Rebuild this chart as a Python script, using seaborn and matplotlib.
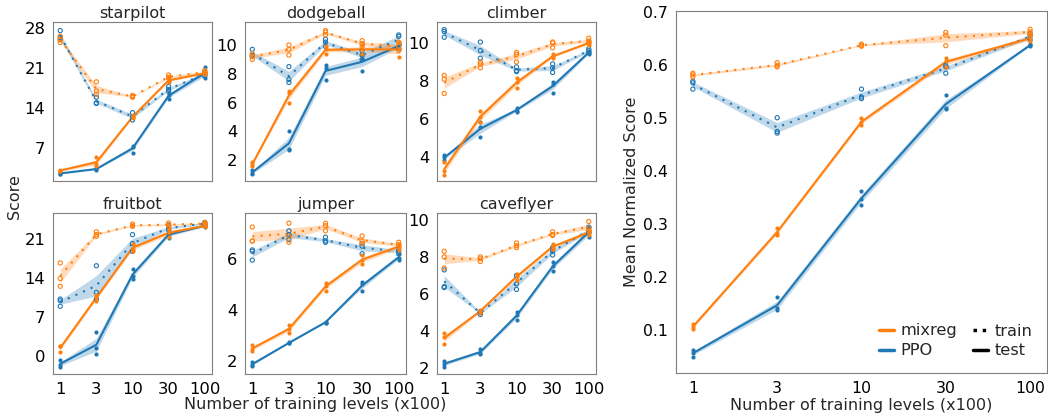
import pandas as pd
import matplotlib
matplotlib.use('Agg')
import matplotlib.pyplot as plt
import seaborn as sns
from matplotlib.lines import Line2D

levels = ['1', '3', '10', '30', '100']
colors = {'mixreg': '#ff7f0e', 'PPO': '#1f77b4'}

# 5 training-level settings x 3 seeds each
starpilot_mixreg_train = [[25.5, 26.0, 26.6], [18.6, 17.0, 16.4], [16.0, 16.2, 15.9], [19.8, 19.4, 19.2], [20.6, 20.3, 20.0]]
starpilot_ppo_train = [[27.6, 26.4, 26.0], [15.9, 14.9, 14.8], [13.2, 12.5, 11.9], [17.8, 17.3, 16.9], [20.3, 20.0, 19.6]]
starpilot_mixreg_test = [[2.9, 3.0, 3.2], [5.4, 4.2, 3.9], [12.7, 12.4, 12.2], [19.2, 18.8, 18.6], [20.3, 20.1, 19.9]]
starpilot_ppo_test = [[2.4, 2.5, 2.7], [3.2, 3.3, 3.4], [7.4, 7.2, 6.2], [16.6, 16.3, 15.6], [21.2, 20.0, 19.3]]

dodgeball_mixreg_train = [[9.0, 9.2, 9.4], [9.3, 9.7, 10.0], [10.7, 10.9, 11.0], [9.9, 10.1, 10.3], [9.6, 9.9, 10.2]]
dodgeball_ppo_train = [[9.2, 9.3, 9.7], [7.4, 7.6, 8.5], [9.9, 10.2, 10.4], [9.0, 9.3, 9.6], [9.8, 10.6, 10.7]]
dodgeball_mixreg_test = [[1.6, 1.7, 1.85], [6.0, 6.7, 6.8], [9.4, 9.7, 9.9], [9.4, 9.7, 10.0], [9.2, 9.7, 10.2]]
dodgeball_ppo_test = [[1.05, 1.1, 1.3], [2.7, 2.8, 4.0], [7.6, 8.4, 8.6], [8.2, 9.0, 9.3], [9.7, 10.0, 10.1]]

climber_mixreg_train = [[7.35, 8.1, 8.3], [8.7, 8.9, 9.0], [9.0, 9.4, 9.5], [9.75, 10.0, 10.05], [10.0, 10.1, 10.25]]
climber_ppo_train = [[10.3, 10.6, 10.7], [9.2, 9.6, 10.05], [8.5, 8.55, 8.75], [8.45, 8.7, 8.9], [9.5, 9.6, 9.7]]
climber_mixreg_test = [[3.1, 3.3, 3.75], [5.85, 6.1, 6.45], [7.65, 7.95, 8.15], [9.2, 9.3, 9.4], [9.9, 10.0, 10.1]]
climber_ppo_test = [[3.85, 4.0, 4.1], [5.05, 5.6, 5.85], [6.4, 6.45, 6.6], [7.4, 7.85, 7.95], [9.4, 9.5, 9.6]]

fruitbot_mixreg_train = [[12.5, 13.9, 16.7], [21.5, 21.8, 22.3], [23.3, 23.4, 23.7], [23.3, 23.6, 23.9], [23.6, 23.8, 24.0]]
fruitbot_ppo_train = [[8.9, 9.9, 10.2], [10.2, 11.4, 16.2], [18.8, 20.2, 21.8], [22.6, 23.0, 23.4], [23.6, 23.8, 24.0]]
fruitbot_mixreg_test = [[0.7, 1.7, 1.8], [9.9, 10.5, 11.0], [18.9, 19.3, 20.1], [21.3, 22.3, 22.8], [23.1, 23.4, 23.7]]
fruitbot_ppo_test = [[-2.0, -1.6, -0.8], [0.3, 1.4, 4.2], [13.9, 14.3, 15.6], [21.2, 22.0, 22.3], [23.2, 23.4, 23.6]]

jumper_mixreg_train = [[6.7, 6.7, 7.25], [6.65, 6.9, 7.4], [7.1, 7.3, 7.4], [6.6, 6.7, 6.9], [6.45, 6.55, 6.65]]
jumper_ppo_train = [[5.95, 6.3, 6.35], [6.75, 6.95, 7.1], [6.65, 6.7, 6.85], [6.2, 6.5, 6.6], [6.2, 6.3, 6.4]]
jumper_mixreg_test = [[2.4, 2.45, 2.6], [3.1, 3.25, 3.4], [4.75, 4.95, 5.05], [5.8, 5.95, 6.15], [6.35, 6.5, 6.6]]
jumper_ppo_test = [[1.8, 1.85, 1.95], [2.68, 2.7, 2.72], [3.5, 3.5, 3.53], [4.75, 5.0, 5.1], [5.95, 6.05, 6.2]]

caveflyer_mixreg_train = [[7.4, 8.0, 8.3], [7.75, 7.9, 8.0], [8.5, 8.6, 8.75], [9.15, 9.2, 9.35], [9.4, 9.55, 9.9]]
caveflyer_ppo_train = [[6.35, 6.4, 7.3], [4.9, 5.0, 5.05], [6.25, 6.55, 7.0], [8.1, 8.3, 8.5], [9.3, 9.4, 9.6]]
caveflyer_mixreg_test = [[3.3, 3.7, 3.9], [5.0, 5.1, 5.15], [6.75, 6.95, 7.1], [8.4, 8.55, 8.7], [9.15, 9.35, 9.45]]
caveflyer_ppo_test = [[2.1, 2.25, 2.4], [2.75, 2.85, 3.05], [4.6, 4.85, 5.05], [7.25, 7.5, 7.7], [9.05, 9.35, 9.6]]

mean_mixreg_train = [[0.578, 0.582, 0.585], [0.597, 0.600, 0.605], [0.636, 0.638, 0.640], [0.637, 0.657, 0.662], [0.658, 0.663, 0.668]]
mean_ppo_train = [[0.555, 0.567, 0.570], [0.472, 0.475, 0.501], [0.537, 0.540, 0.555], [0.585, 0.597, 0.600], [0.648, 0.655, 0.660]]
mean_mixreg_test = [[0.102, 0.105, 0.112], [0.280, 0.284, 0.292], [0.488, 0.492, 0.500], [0.597, 0.608, 0.614], [0.645, 0.651, 0.657]]
mean_ppo_test = [[0.050, 0.057, 0.062], [0.138, 0.141, 0.162], [0.337, 0.348, 0.362], [0.517, 0.520, 0.543], [0.636, 0.638, 0.640]]

games = ['starpilot', 'dodgeball', 'climber', 'fruitbot', 'jumper', 'caveflyer']
yticks = {'starpilot': [7, 14, 21, 28], 'dodgeball': [2, 4, 6, 8, 10], 'climber': [4, 6, 8, 10],
          'fruitbot': [0, 7, 14, 21], 'jumper': [2, 4, 6], 'caveflyer': [2, 4, 6, 8, 10]}
ylims = {'starpilot': (1.2, 29.1), 'dodgeball': (0.55, 11.6), 'climber': (2.76, 11.1),
         'fruitbot': (-3.3, 25.7), 'jumper': (1.48, 7.8), 'caveflyer': (1.7, 10.36)}


def to_long(prefix):
    rows = []
    g = globals()
    for method, key in [('PPO', 'ppo'), ('mixreg', 'mixreg')]:
        for mode in ['train', 'test']:
            vals = g[f'{prefix}_{key}_{mode}']
            for i, seeds in enumerate(vals):
                for v in seeds:
                    rows.append((i, v, method, mode))
    return pd.DataFrame(rows, columns=['level', 'score', 'method', 'mode'])


def draw(ax, df, fs):
    sns.lineplot(data=df, x='level', y='score', hue='method', style='mode',
                 hue_order=['PPO', 'mixreg'], palette=colors, style_order=['train', 'test'],
                 dashes={'train': (1, 3), 'test': ''}, errorbar='se',
                 err_kws={'alpha': 0.28, 'linewidth': 0}, linewidth=1.5, legend=False, ax=ax)
    for method in ['PPO', 'mixreg']:
        for mode in ['train', 'test']:
            d = df[(df.method == method) & (df['mode'] == mode)]
            if mode == 'train':
                ax.scatter(d.level, d.score, s=9, facecolors='none', edgecolors=colors[method],
                           linewidths=0.8, zorder=3)
            else:
                ax.scatter(d.level, d.score, s=9, color=colors[method], linewidths=0, zorder=3)
    ax.set_xticks(range(5))
    ax.set_xticklabels(levels)
    ax.set_xlabel('')
    ax.set_ylabel('')
    for s in ax.spines.values():
        s.set_color('#7f7f7f')
    ax.tick_params(labelsize=fs, colors='#7f7f7f', labelcolor='black', pad=2)


sns.set_style('white')
plt.rcParams['font.family'] = ['DejaVu Sans']

W, H = 1048, 413
fig = plt.figure(figsize=(W / 100, H / 100), dpi=100)

cols = [(53, 212), (245, 406), (437, 596)]
rows_px = [(22, 181), (213, 374)]
for k, game in enumerate(games):
    r, c = divmod(k, 3)
    x0, x1 = cols[c]
    y0, y1 = rows_px[r]
    ax = fig.add_axes([x0 / W, 1 - y1 / H, (x1 - x0) / W, (y1 - y0) / H])
    draw(ax, to_long(game), 11.8)
    ax.set_yticks(yticks[game])
    ax.set_ylim(*ylims[game])
    ax.set_title(game, fontsize=11.5, pad=3)
    if r == 0:
        ax.set_xticklabels([])

fig.text(14 / W, 1 - 197 / H, 'Score', rotation=90, ha='center', va='center', fontsize=11.5)
fig.text(315 / W, 1 - 404 / H, 'Number of training levels (x100)', ha='center', va='center', fontsize=11.5)

ax = fig.add_axes([676 / W, 1 - 373 / H, 372 / W - 0.001, 362 / H])
draw(ax, to_long('mean'), 11.3)
ax.set_ylim(0.019, 0.7025)
ax.set_yticks([0.1, 0.2, 0.3, 0.4, 0.5, 0.6, 0.7])
ax.set_xlabel('Number of training levels (x100)', fontsize=11.5, labelpad=2)
ax.set_ylabel('Mean Normalized Score', fontsize=11.5, labelpad=3)

handles = [Line2D([], [], color=colors['mixreg'], lw=2.5), Line2D([], [], color=colors['PPO'], lw=2.5),
           Line2D([], [], color='black', lw=2.5, ls=':'), Line2D([], [], color='black', lw=2.5)]
ax.legend(handles, ['mixreg', 'PPO', 'train', 'test'], ncol=2, loc='lower right', frameon=False,
          fontsize=11.7, handlelength=0.9, columnspacing=1.0, handletextpad=0.4, labelspacing=0.3)

fig.savefig('out.png', dpi=100)
